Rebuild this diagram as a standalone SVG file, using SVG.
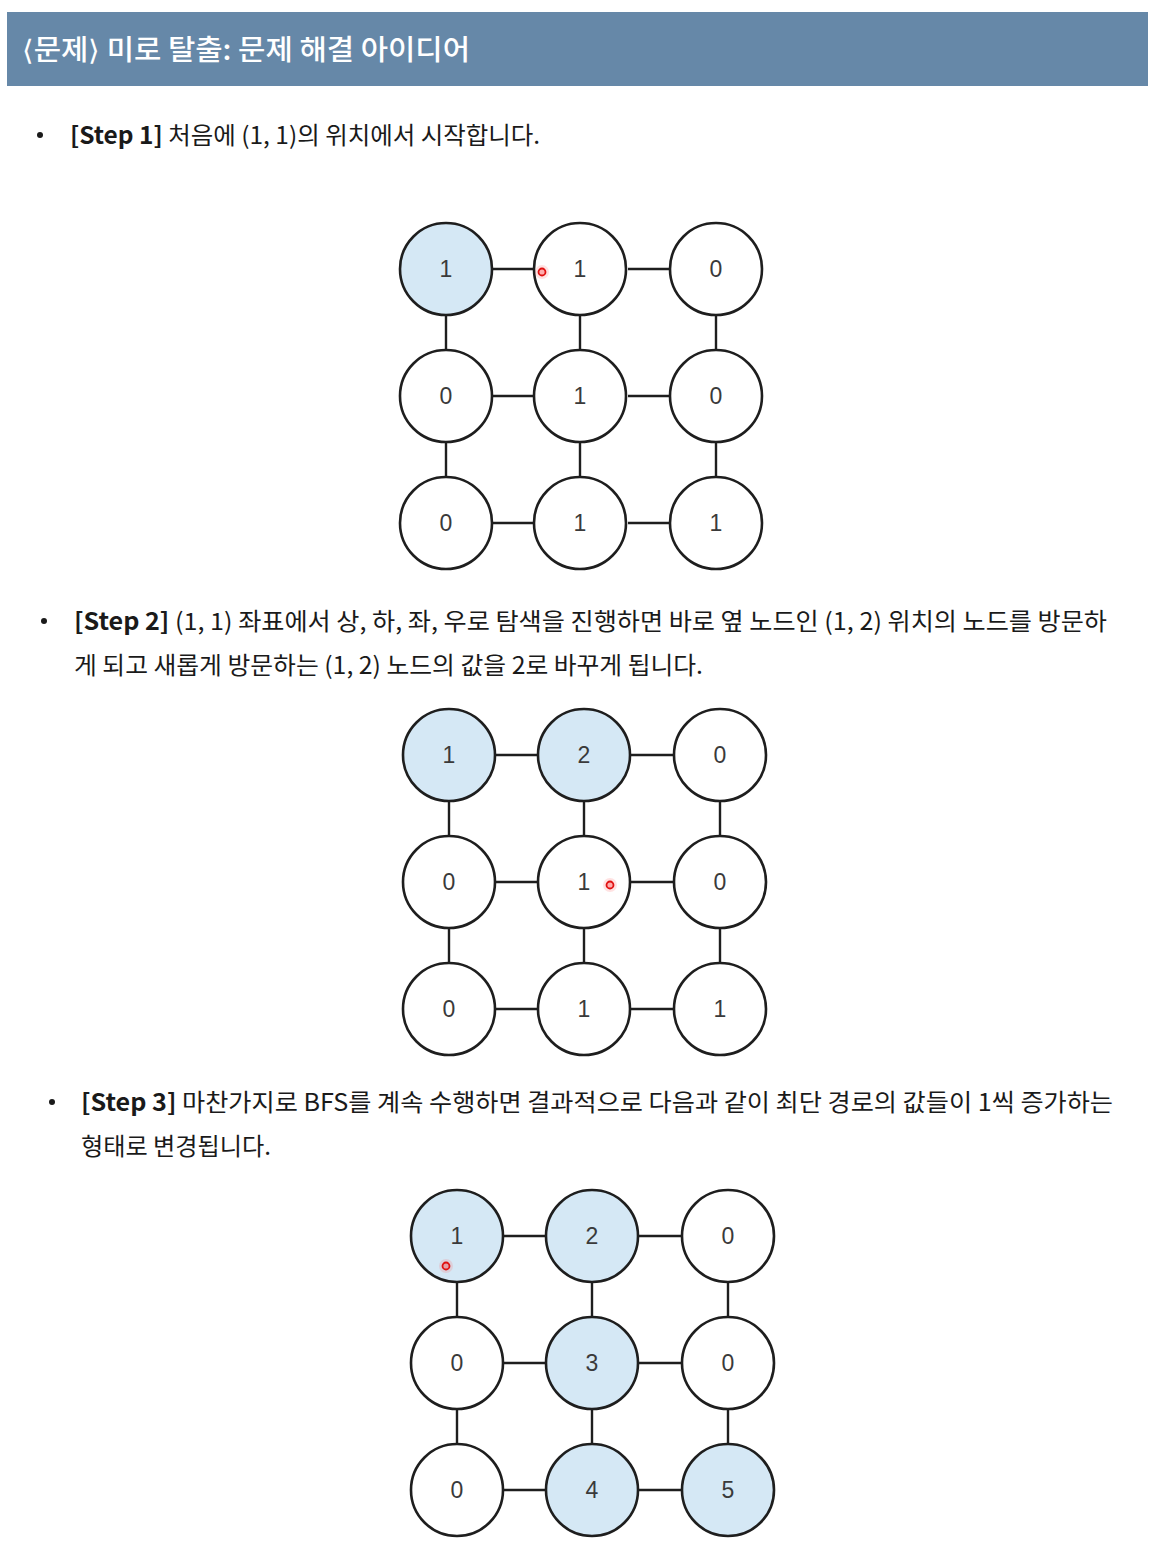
<svg xmlns="http://www.w3.org/2000/svg" width="1162" height="1550" viewBox="0 0 1162 1550">
<defs>
<style>
.node{fill:#fff;stroke:#1e1e1e;stroke-width:2.6}
.vis{fill:#d5e8f5;stroke:#1e1e1e;stroke-width:2.6}
.lbl{font-family:"Liberation Sans","DejaVu Sans",sans-serif;font-size:23px;fill:#3a3a3a;text-anchor:middle}
.edge{stroke:#1e1e1e;stroke-width:2.4;fill:none}
.txt{font-family:"Noto Sans CJK KR","Noto Sans",sans-serif;font-size:24px;fill:#1a1a1a}
.b{font-weight:bold}
.title{font-family:"Noto Sans CJK KR","Noto Sans",sans-serif;font-size:28px;font-weight:500;fill:#fff}
.dot{fill:#ff3030;fill-opacity:0.3;stroke:#e01010;stroke-width:1.8}
.glow{fill:#ff6060;fill-opacity:0.18}
</style>
</defs>
<rect x="0" y="0" width="1162" height="1550" fill="#fff"/>
<g id="header">
<rect x="7" y="12" width="1141" height="74" fill="#6688a8"/>
<text class="title" x="22" y="60" textLength="448" lengthAdjust="spacingAndGlyphs">⟨문제⟩ 미로 탈출: 문제 해결 아이디어</text>
</g>
<g id="step1-text">
<circle cx="40" cy="135" r="3" fill="#1a1a1a"/>
<text class="txt" x="70" y="144" textLength="470" lengthAdjust="spacingAndGlyphs"><tspan class="b">[Step 1]</tspan> 처음에 (1, 1)의 위치에서 시작합니다.</text>
</g>
<g id="step2-text">
<circle cx="44" cy="621" r="3" fill="#1a1a1a"/>
<text class="txt" x="74" y="630" textLength="1033" lengthAdjust="spacingAndGlyphs"><tspan class="b">[Step 2]</tspan> (1, 1) 좌표에서 상, 하, 좌, 우로 탐색을 진행하면 바로 옆 노드인 (1, 2) 위치의 노드를 방문하</text>
<text class="txt" x="74" y="674" textLength="629" lengthAdjust="spacingAndGlyphs">게 되고 새롭게 방문하는 (1, 2) 노드의 값을 2로 바꾸게 됩니다.</text>
</g>
<g id="step3-text">
<circle cx="52" cy="1102" r="3" fill="#1a1a1a"/>
<text class="txt" x="81" y="1111" textLength="1032" lengthAdjust="spacingAndGlyphs"><tspan class="b">[Step 3]</tspan> 마찬가지로 BFS를 계속 수행하면 결과적으로 다음과 같이 최단 경로의 값들이 1씩 증가하는</text>
<text class="txt" x="81" y="1155" textLength="190" lengthAdjust="spacingAndGlyphs">형태로 변경됩니다.</text>
</g>

<g id="connectors">
<g transform="translate(446,269)">
<path class="edge" d="M46 0H88 M182 0H224 M46 127H88 M182 127H224 M46 254H88 M182 254H224 M0 46V81 M134 46V81 M270 46V81 M0 173V208 M134 173V208 M270 173V208"/>
</g>
<g transform="translate(449,755)">
<path class="edge" d="M46 0H89 M182 0H225 M46 127H89 M182 127H225 M46 254H89 M182 254H225 M0 46V81 M135 46V81 M271 46V81 M0 173V208 M135 173V208 M271 173V208"/>
</g>
<g transform="translate(457,1236)">
<path class="edge" d="M46 0H89 M181 0H225 M46 127H89 M181 127H225 M46 254H89 M181 254H225 M0 46V81 M135 46V81 M271 46V81 M0 173V208 M135 173V208 M271 173V208"/>
</g>
</g>

<g id="grid1">
<g id="g1-n11"><circle class="vis" cx="446" cy="269" r="46"/><text class="lbl" x="446" y="277">1</text></g>
<g id="g1-n12"><circle class="node" cx="580" cy="269" r="46"/><text class="lbl" x="580" y="277">1</text></g>
<g id="g1-n13"><circle class="node" cx="716" cy="269" r="46"/><text class="lbl" x="716" y="277">0</text></g>
<g id="g1-n21"><circle class="node" cx="446" cy="396" r="46"/><text class="lbl" x="446" y="404">0</text></g>
<g id="g1-n22"><circle class="node" cx="580" cy="396" r="46"/><text class="lbl" x="580" y="404">1</text></g>
<g id="g1-n23"><circle class="node" cx="716" cy="396" r="46"/><text class="lbl" x="716" y="404">0</text></g>
<g id="g1-n31"><circle class="node" cx="446" cy="523" r="46"/><text class="lbl" x="446" y="531">0</text></g>
<g id="g1-n32"><circle class="node" cx="580" cy="523" r="46"/><text class="lbl" x="580" y="531">1</text></g>
<g id="g1-n33"><circle class="node" cx="716" cy="523" r="46"/><text class="lbl" x="716" y="531">1</text></g>
</g>

<g id="grid2">
<g id="g2-n11"><circle class="vis" cx="449" cy="755" r="46"/><text class="lbl" x="449" y="763">1</text></g>
<g id="g2-n12"><circle class="vis" cx="584" cy="755" r="46"/><text class="lbl" x="584" y="763">2</text></g>
<g id="g2-n13"><circle class="node" cx="720" cy="755" r="46"/><text class="lbl" x="720" y="763">0</text></g>
<g id="g2-n21"><circle class="node" cx="449" cy="882" r="46"/><text class="lbl" x="449" y="890">0</text></g>
<g id="g2-n22"><circle class="node" cx="584" cy="882" r="46"/><text class="lbl" x="584" y="890">1</text></g>
<g id="g2-n23"><circle class="node" cx="720" cy="882" r="46"/><text class="lbl" x="720" y="890">0</text></g>
<g id="g2-n31"><circle class="node" cx="449" cy="1009" r="46"/><text class="lbl" x="449" y="1017">0</text></g>
<g id="g2-n32"><circle class="node" cx="584" cy="1009" r="46"/><text class="lbl" x="584" y="1017">1</text></g>
<g id="g2-n33"><circle class="node" cx="720" cy="1009" r="46"/><text class="lbl" x="720" y="1017">1</text></g>
</g>

<g id="grid3">
<g id="g3-n11"><circle class="vis" cx="457" cy="1236" r="46"/><text class="lbl" x="457" y="1244">1</text></g>
<g id="g3-n12"><circle class="vis" cx="592" cy="1236" r="46"/><text class="lbl" x="592" y="1244">2</text></g>
<g id="g3-n13"><circle class="node" cx="728" cy="1236" r="46"/><text class="lbl" x="728" y="1244">0</text></g>
<g id="g3-n21"><circle class="node" cx="457" cy="1363" r="46"/><text class="lbl" x="457" y="1371">0</text></g>
<g id="g3-n22"><circle class="vis" cx="592" cy="1363" r="46"/><text class="lbl" x="592" y="1371">3</text></g>
<g id="g3-n23"><circle class="node" cx="728" cy="1363" r="46"/><text class="lbl" x="728" y="1371">0</text></g>
<g id="g3-n31"><circle class="node" cx="457" cy="1490" r="46"/><text class="lbl" x="457" y="1498">0</text></g>
<g id="g3-n32"><circle class="vis" cx="592" cy="1490" r="46"/><text class="lbl" x="592" y="1498">4</text></g>
<g id="g3-n33"><circle class="vis" cx="728" cy="1490" r="46"/><text class="lbl" x="728" y="1498">5</text></g>
</g>

<g id="pointers">
<circle class="glow" cx="542" cy="272" r="7"/>
<circle class="dot" cx="542" cy="272" r="3.5"/>
<circle class="glow" cx="610" cy="885" r="7"/>
<circle class="dot" cx="610" cy="885" r="3.5"/>
<circle class="glow" cx="446" cy="1266" r="7"/>
<circle class="dot" cx="446" cy="1266" r="3.5"/>
</g>
</svg>
